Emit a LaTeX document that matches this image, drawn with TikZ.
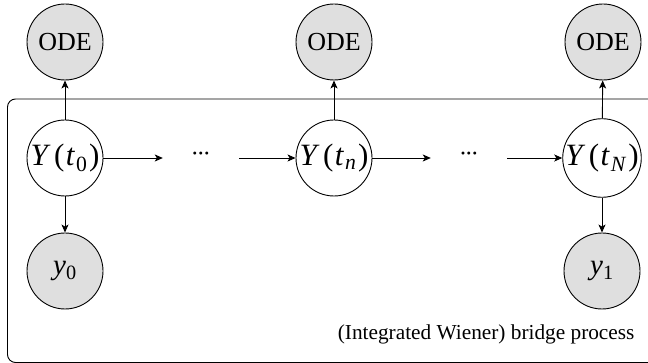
\documentclass[tikz,border=0pt]{standalone}
\usepackage{fontspec}
\setmainfont{Liberation Serif}
\usetikzlibrary{arrows.meta}
\newcommand\Yt[1]{\textit{Y}\kern3.5pt(\kern1.5pt\textit{t}\kern1pt\textsubscript{#1}\kern1.5pt)}
\begin{document}
\begin{tikzpicture}[x=1pt,y=-1pt,
  var/.style={circle,draw,line width=0.9pt,minimum size=76pt,inner sep=0pt,font=\fontsize{26}{30}\selectfont},
  obs/.style={var,fill=gray!25},
  lat/.style={var,fill=white,font=\fontsize{31}{34}\selectfont},
  ghost/.style={circle,minimum size=76pt,inner sep=0pt,font=\fontsize{26}{30}\selectfont},
  arr/.style={-{Stealth[length=8pt,width=7pt,inset=2pt]},line width=0.9pt}]
\useasboundingbox (0,0) rectangle (648,363);
\draw[line width=0.9pt,rounded corners=8pt] (7.5,99) rectangle (680,362.5);
\node[lat] (Y0) at (65,158) {\Yt{0}};
\node[lat] (Yn) at (334,158) {\Yt{\textit{n}}};
\node[lat] (YN) at (602,158) {\Yt{\textit{N}}};
\node[ghost] (d1) at (201,158) {\raisebox{0.3ex}{\textbf{\fontsize{18}{20}\selectfont\textperiodcentered\textperiodcentered\textperiodcentered}}};
\node[ghost] (d2) at (469,158) {\raisebox{0.3ex}{\textbf{\fontsize{18}{20}\selectfont\textperiodcentered\textperiodcentered\textperiodcentered}}};
\node[obs] (O0) at (65,42) {ODE};
\node[obs] (On) at (334,42) {ODE};
\node[obs] (ON) at (603,42) {ODE};
\node[obs,font=\fontsize{29}{32}\selectfont] (y0) at (65,271) {\textit{y}\textsubscript{0}};
\node[obs,font=\fontsize{29}{32}\selectfont] (y1) at (602,271) {\textit{y}\textsubscript{1}};
\node[anchor=base east,font=\fontsize{21.3}{24}\selectfont] (lab) at (638,339) {(Integrated Wiener) bridge process};
\draw[arr] (Y0) -- (d1);
\draw[arr] (d1) -- (Yn);
\draw[arr] (Yn) -- (d2);
\draw[arr] (d2) -- (YN);
\draw[arr] (Y0) -- (O0);
\draw[arr] (Yn) -- (On);
\draw[arr] (YN) -- (ON);
\draw[arr] (Y0) -- (y0);
\draw[arr] (YN) -- (y1);
\end{tikzpicture}
\end{document}
